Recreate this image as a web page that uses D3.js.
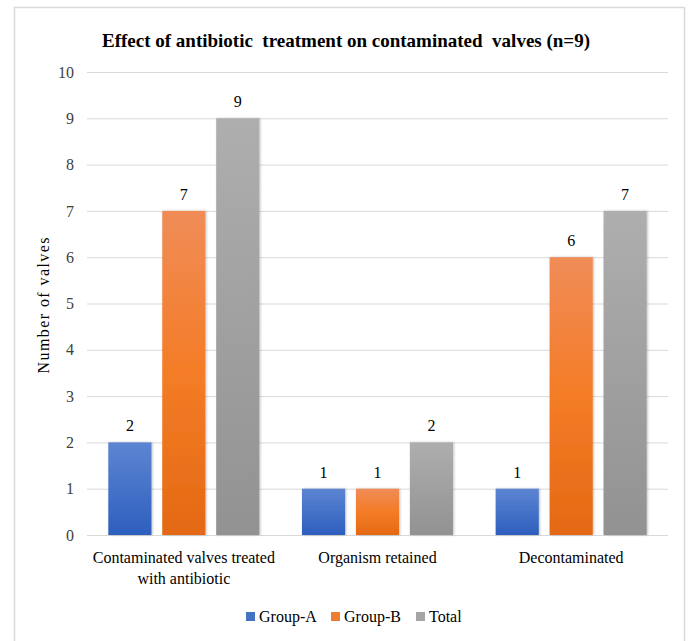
<!DOCTYPE html>
<html><head><meta charset="utf-8">
<script src="https://cdn.jsdelivr.net/npm/d3@7"></script>
<style>body{margin:0;background:#fff}svg{display:block}text{white-space:pre}</style>
</head><body>
<svg id="c" width="689" height="641"></svg>
<script>
const categories = [["Contaminated valves treated","with antibiotic"],["Organism retained"],["Decontaminated"]];
const seriesNames = ["Group-A","Group-B","Total"];
const groupA = [2,1,1];
const groupB = [7,1,6];
const total = [9,2,7];
const yTicks = [0,1,2,3,4,5,6,7,8,9,10];
const title = "Effect of antibiotic  treatment on contaminated  valves (n=9)";
const yLabel = "Number of valves";

const svg = d3.select("#c");
const font = "'Liberation Serif','Times New Roman',serif";
const M = {l:87, r:668, t:72, b:535};
const defs = svg.append("defs");
const grads = [
  ["gA", "#5d85d2", "#2d5fbe"],
  ["gB", "#f08c58", "#f47c26", "#e46914"],
  ["gT", "#aeaeae", "#929292"]
];
grads.forEach(g=>{
  const lg = defs.append("linearGradient").attr("id",g[0]).attr("x1",0).attr("y1",0).attr("x2",0).attr("y2",1);
  const stops = g.slice(1);
  stops.forEach((c,i)=>lg.append("stop").attr("offset", i/(stops.length-1)).attr("stop-color", c));
});
const f = defs.append("filter").attr("id","sh").attr("x","-20%").attr("y","-5%").attr("width","140%").attr("height","110%");
f.append("feDropShadow").attr("dx",1).attr("dy",0).attr("stdDeviation",1.2).attr("flood-color","#000").attr("flood-opacity",0.25);

// frame
svg.append("rect").attr("x",14.5).attr("y",7.5).attr("width",670).attr("height",660)
  .attr("fill","none").attr("stroke","#d9d9d9").attr("stroke-width",1.5);

const y = d3.scaleLinear().domain([0,10]).range([M.b,M.t]);
const x0 = d3.scaleBand().domain(d3.range(categories.length)).range([M.l,M.r]).paddingInner(0.22).paddingOuter(0.11);
const x1 = d3.scaleBand().domain(d3.range(3)).range([0,x0.bandwidth()]).paddingInner(0.2);

// grid
svg.append("g").selectAll("line").data(yTicks).join("line")
  .attr("x1",M.l).attr("x2",M.r).attr("y1",d=>y(d)+0.5).attr("y2",d=>y(d)+0.5)
  .attr("stroke","#d9d9d9").attr("stroke-width",1);

// y axis labels
const yAxis = d3.axisLeft(y).tickValues(yTicks).tickSize(0).tickPadding(0).tickFormat(d3.format("d"));
const ya = svg.append("g").attr("transform",`translate(${M.l-13},0)`).call(yAxis);
ya.select(".domain").remove();
ya.selectAll(".tick text").attr("font-family",font).attr("font-size",16).attr("fill","#404040")
  .attr("text-anchor","end").attr("x",0);

svg.append("text").attr("transform",`translate(49,${(M.t+M.b)/2 + 2}) rotate(-90)`)
  .attr("text-anchor","middle").attr("font-family",font).attr("font-size",16).attr("fill","#000")
  .attr("textLength",136).attr("lengthAdjust","spacing")
  .text(yLabel);

const series = [groupA, groupB, total];
const gradIds = ["gA","gB","gT"];
const barG = svg.append("g");
series.forEach((vals,si)=>{
  barG.selectAll(null).data(vals).join("rect")
    .attr("x",(d,i)=>x0(i)+x1(si)).attr("width",x1.bandwidth())
    .attr("y",d=>y(d)).attr("height",d=>y(0)-y(d))
    .attr("fill",`url(#${gradIds[si]})`).attr("filter","url(#sh)");
  barG.selectAll(null).data(vals).join("text")
    .attr("x",(d,i)=>x0(i)+x1(si)+x1.bandwidth()/2).attr("y",d=>y(d)-11)
    .attr("text-anchor","middle").attr("font-family",font).attr("font-size",16).attr("fill","#000")
    .text(d=>d);
});

// x labels
const xl = svg.append("g");
categories.forEach((lines,i)=>{
  const t = xl.append("text").attr("text-anchor","middle").attr("font-family",font).attr("font-size",16).attr("fill","#000");
  lines.forEach((ln,j)=>t.append("tspan").attr("x",x0(i)+x0.bandwidth()/2).attr("y",563+j*21).text(ln));
});

// title
svg.append("text").attr("x",346).attr("y",47).attr("text-anchor","middle")
  .attr("font-family",font).attr("font-size",19).attr("font-weight","bold").attr("fill","#000")
  .text(title);

// legend
const legX = [246, 331, 416];
const legColors = ["#4472c4","#ed7d31","#a5a5a5"];
seriesNames.forEach((n,i)=>{
  svg.append("rect").attr("x",legX[i]).attr("y",612).attr("width",9).attr("height",9).attr("fill",legColors[i]);
  svg.append("text").attr("x",legX[i]+13).attr("y",622).attr("font-family",font).attr("font-size",16).attr("fill","#000").text(n);
});
</script>
</body></html>
